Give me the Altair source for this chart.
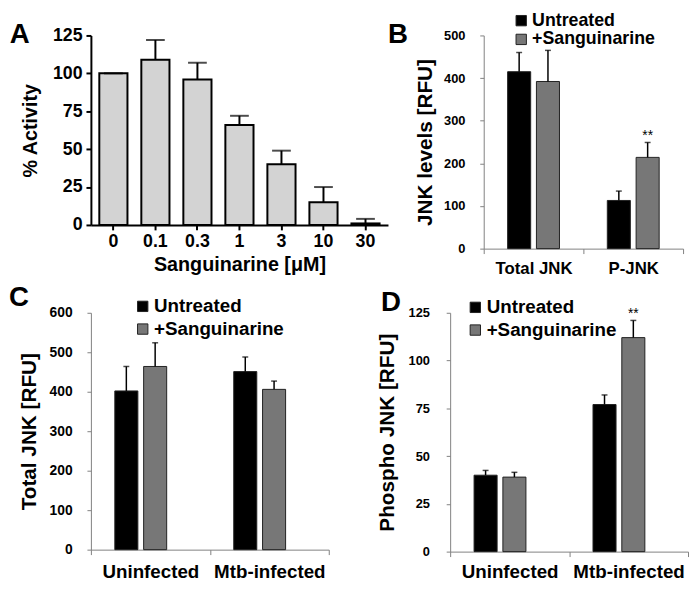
import altair as alt
import pandas as pd

FONT = "Liberation Sans"

# ---------------- data ----------------
# Panel A
a_conc = ["0", "0.1", "0.3", "1", "3", "10", "30"]
a_activity = [100, 109, 96, 66, 40, 15, 1]
a_err = [0, 13, 11, 6, 9, 10, 3]

treatments = ["Untreated", "+Sanguinarine"]

# Panel B
b_groups = ["Total JNK", "P-JNK"]
b_untreated = [415, 113]
b_untreated_err = [45, 22]
b_sang = [392, 214]
b_sang_err = [73, 35]
b_sig = ["", "**"]

# Panel C
c_groups = ["Uninfected", "Mtb-infected"]
c_untreated = [402, 451]
c_untreated_err = [62, 37]
c_sang = [464, 406]
c_sang_err = [60, 21]
c_sig = ["", ""]

# Panel D
d_groups = ["Uninfected", "Mtb-infected"]
d_untreated = [40, 77]
d_untreated_err = [2.5, 5]
d_sang = [39, 112]
d_sang_err = [2.5, 9]
d_sig = ["", "**"]


def letter(ch, dx, dy):
    return alt.Chart(pd.DataFrame({"t": [ch]})).mark_text(
        font=FONT, fontSize=28, fontWeight="bold", color="black",
        align="center", baseline="middle"
    ).encode(x=alt.value(dx), y=alt.value(dy), text="t:N")


# ---------------- Panel A ----------------
dfA = pd.DataFrame({"conc": a_conc, "activity": a_activity, "err": a_err})
dfA["top"] = dfA["activity"] + dfA["err"]

axA_x = alt.Axis(title="Sanguinarine [μM]", labelAngle=0, labelFont=FONT, labelFontWeight="bold",
                 labelFontSize=18, labelColor="black", labelPadding=3, tickSize=5, tickWidth=2,
                 tickColor="black", domainWidth=2, domainColor="black", titleFont=FONT,
                 titleFontSize=20, titleFontWeight="bold", titleColor="black", titlePadding=4)
axA_y = alt.Axis(title="% Activity", values=[0, 25, 50, 75, 100, 125], grid=False, labelFont=FONT,
                 labelFontWeight="bold", labelFontSize=18, labelColor="black", labelPadding=4,
                 tickSize=5, tickWidth=2, tickColor="black", domainWidth=2, domainColor="black",
                 titleFont=FONT, titleFontSize=20, titleFontWeight="bold", titleColor="black",
                 titlePadding=12)
scA_x = alt.Scale(paddingInner=0.33, paddingOuter=0.2)
scA_y = alt.Scale(domain=[0, 125], nice=False)

baseA = alt.Chart(dfA)
barsA = baseA.mark_bar(fill="#d3d3d3", stroke="black", strokeWidth=2).encode(
    x=alt.X("conc:N", sort=a_conc, scale=scA_x, axis=axA_x),
    y=alt.Y("activity:Q", scale=scA_y, axis=axA_y),
)
ruleA = baseA.mark_rule(color="black", strokeWidth=2).encode(
    x=alt.X("conc:N", sort=a_conc, scale=scA_x, axis=axA_x),
    y=alt.Y("activity:Q", scale=scA_y, axis=axA_y),
    y2="top:Q",
)
capA = baseA.mark_tick(color="black", thickness=2, size=19).encode(
    x=alt.X("conc:N", sort=a_conc, scale=scA_x, axis=axA_x),
    y=alt.Y("top:Q", scale=scA_y, axis=axA_y),
)
panelA = alt.layer(barsA, ruleA, capA, letter("A", -72, 0)).properties(width=301, height=192)


# ---------------- grouped panels ----------------
def grouped(groups, unt, unt_err, sang, sang_err, sig, ymax, yvals, ytitle, ylabsize,
            xlabsize, xlabpad, ylabpad, ytitlepad, legx, legy, legfont, legrowpad,
            let, letx, lety, w, h):
    rows = []
    for i, g in enumerate(groups):
        rows.append(dict(group=g, treatment=treatments[0], value=unt[i],
                         top=unt[i] + unt_err[i], sig=""))
        rows.append(dict(group=g, treatment=treatments[1], value=sang[i],
                         top=sang[i] + sang_err[i], sig=sig[i]))
    df = pd.DataFrame(rows)
    ax_x = alt.Axis(title=None, labelAngle=0, labelFont=FONT, labelFontWeight="bold",
                    labelFontSize=xlabsize, labelColor="black", labelPadding=xlabpad,
                    tickBand="extent", tickSize=5, tickWidth=1, tickColor="#808080",
                    domainColor="#808080", domainWidth=1)
    ax_y = alt.Axis(title=ytitle, values=yvals, grid=False, labelFont=FONT, labelFontWeight="bold",
                    labelFontSize=ylabsize, labelColor="black", labelPadding=ylabpad,
                    tickSize=4, tickWidth=1, tickColor="#808080", domainColor="#808080",
                    domainWidth=1, titleFont=FONT, titleFontSize=21, titleFontWeight="bold",
                    titleColor="black", titlePadding=ytitlepad)
    sx = alt.Scale(paddingInner=0, paddingOuter=0)
    sy = alt.Scale(domain=[0, ymax], nice=False)
    sxo = alt.Scale(paddingInner=0.2, paddingOuter=0.83)
    X = alt.X("group:N", sort=groups, scale=sx, axis=ax_x)
    XO = alt.XOffset("treatment:N", sort=treatments, scale=sxo)
    base = alt.Chart(df)
    bars = base.mark_bar(stroke="#222222", strokeWidth=1).encode(
        x=X, xOffset=XO,
        y=alt.Y("value:Q", scale=sy, axis=ax_y),
        color=alt.Color("treatment:N", sort=treatments,
                        scale=alt.Scale(domain=treatments, range=["#000000", "#777777"]),
                        legend=alt.Legend(title=None, orient="none", legendX=legx, legendY=legy,
                                          direction="vertical", symbolType="square",
                                          symbolSize=110, symbolStrokeColor="#222222",
                                          symbolStrokeWidth=1, labelFont=FONT,
                                          labelFontSize=legfont, labelFontWeight="bold",
                                          labelColor="black", labelOffset=2,
                                          rowPadding=legrowpad, padding=0)),
    )
    rule = base.mark_rule(color="black", strokeWidth=1.5).encode(
        x=X, xOffset=XO, y=alt.Y("value:Q", scale=sy, axis=ax_y), y2="top:Q")
    cap = base.mark_tick(color="black", thickness=1.5, size=6).encode(
        x=X, xOffset=XO, y=alt.Y("top:Q", scale=sy, axis=ax_y))
    star = base.mark_text(font=FONT, fontSize=14, color="black", baseline="alphabetic",
                          dy=-2).encode(
        x=X, xOffset=XO, y=alt.Y("top:Q", scale=sy, axis=ax_y), text="sig:N")
    return alt.layer(bars, rule, cap, star, letter(let, letx, lety)).properties(width=w, height=h)


panelB = grouped(b_groups, b_untreated, b_untreated_err, b_sang, b_sang_err, b_sig,
                 500, [0, 100, 200, 300, 400, 500], "JNK levels [RFU]", 13, 17, 7, 15, 8,
                 29, -24, 18, 1, "B", -87, 0, 202, 216)
panelC = grouped(c_groups, c_untreated, c_untreated_err, c_sang, c_sang_err, c_sig,
                 600, [0, 100, 200, 300, 400, 500, 600], "Total JNK [RFU]", 14, 19, 8, 15, 10,
                 43, -16, 19, 3, "C", -73, -15, 241, 240)
panelD = grouped(d_groups, d_untreated, d_untreated_err, d_sang, d_sang_err, d_sig,
                 125, [0, 25, 50, 75, 100, 125], "Phospho JNK [RFU]", 13, 19, 6, 17, 11,
                 16, -15, 19, 3, "D", -60, -10, 241, 242)

row1 = alt.hconcat(panelA, panelB, spacing=97, bounds="flush").resolve_scale(
    color="independent").resolve_legend(color="independent")
row2 = alt.hconcat(panelC, panelD, spacing=123, bounds="flush").resolve_scale(
    color="independent").resolve_legend(color="independent")

chart = alt.vconcat(row1, row2, spacing=8).resolve_scale(
    color="independent").resolve_legend(color="independent").properties(
    padding=0).configure_view(stroke=None)

chart.save("out.html", embed_options={"renderer": "svg", "actions": False})
